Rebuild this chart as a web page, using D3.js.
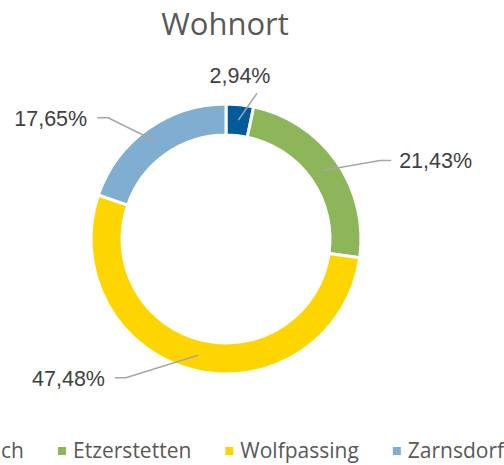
<!DOCTYPE html>
<html lang="de">
<head>
  <meta charset="UTF-8">
  <title>Wohnort</title>
  <style>
    body { margin: 0; background: #fff; }
    svg { display: block; }
  </style>
</head>
<body>
  <script src="https://cdn.jsdelivr.net/npm/d3@7/dist/d3.min.js"></script>
  <script>
    // data
    const categories = ['Hafnerbach', 'Etzerstetten', 'Wolfpassing', 'Zarnsdorf'];
    const values = [2.94, 21.43, 47.48, 17.65];
    const colors = ['#005A9C', '#8DB65B', '#FFD500', '#7FAED0'];

    // where Excel put the labels: elbow angle (deg) / radius
    const labelAngle = [12, 63, 215.8, 315.8];
    const labelRadius = [149, 173, 171, 169];

    const width = 504, height = 465;
    const cx = 226, cy = 239;
    const outerR = 135, innerR = 104;

    const fmt = v => d3.format('.2f')(v).replace('.', ',') + '%';

    const svg = d3.select('body').append('svg')
      .attr('width', width)
      .attr('height', height);

    svg.append('text')
      .attr('x', 225).attr('y', 35)
      .attr('text-anchor', 'middle')
      .attr('font-family', 'Open Sans, sans-serif')
      .attr('font-size', 31)
      .attr('fill', '#595959')
      .text('Wohnort');

    const pie = d3.pie().sort(null).value(d => d);
    const arc = d3.arc().innerRadius(innerR).outerRadius(outerR);
    const arcs = pie(values);

    const g = svg.append('g').attr('transform', `translate(${cx},${cy})`);

    g.selectAll('path.slice')
      .data(arcs)
      .enter().append('path')
      .attr('class', 'slice')
      .attr('d', arc)
      .attr('fill', (d, i) => colors[i])
      .attr('stroke', '#fff')
      .attr('stroke-width', 3);

    const polar = (deg, r) => {
      const a = deg * Math.PI / 180;
      return [Math.sin(a) * r, -Math.cos(a) * r];
    };

    // leader lines + labels
    arcs.forEach((d, i) => {
      const start = arc.centroid(d);
      const elbow = polar(labelAngle[i], labelRadius[i]);
      const right = Math.sin(labelAngle[i] * Math.PI / 180) >= 0;
      let pts, tx, ty, anchor;
      if (i === 0) {
        pts = [start, elbow];
        tx = elbow[0] - 17; ty = elbow[1] - 10; anchor = 'middle';
      } else {
        const end = [elbow[0] + (right ? 11 : -11), elbow[1]];
        pts = [start, elbow, end];
        tx = end[0] + (right ? 8 : -10); ty = end[1] + 8;
        anchor = right ? 'start' : 'end';
      }
      g.append('path')
        .attr('d', d3.line()(pts))
        .attr('fill', 'none')
        .attr('stroke', '#A6A6A6')
        .attr('stroke-width', 1.5);
      g.append('text')
        .attr('x', tx).attr('y', ty)
        .attr('text-anchor', anchor)
        .attr('font-family', 'Liberation Sans, Arial, sans-serif')
        .attr('font-size', 21.5)
        .attr('fill', '#404040')
        .text(fmt(values[i]));
    });

    // legend (first entry runs off the left edge, as in the original)
    const legend = svg.append('g').attr('transform', 'translate(0,458)');
    const items = legend.selectAll('g.item')
      .data(categories)
      .enter().append('g')
      .attr('class', 'item');
    items.append('rect')
      .attr('y', -11).attr('width', 8).attr('height', 8)
      .attr('fill', (d, i) => colors[i]);
    items.append('text')
      .attr('x', 15)
      .attr('font-family', 'Open Sans, sans-serif')
      .attr('font-size', 21)
      .attr('fill', '#595959')
      .text(d => d);

    const widths = [];
    items.select('text').each(function() { widths.push(this.getComputedTextLength()); });
    const gap = 34;
    let x = 58 - (15 + widths[0] + gap);
    items.each(function(d, i) {
      d3.select(this).attr('transform', `translate(${x},0)`);
      x += 15 + widths[i] + gap;
    });
  </script>
</body>
</html>
